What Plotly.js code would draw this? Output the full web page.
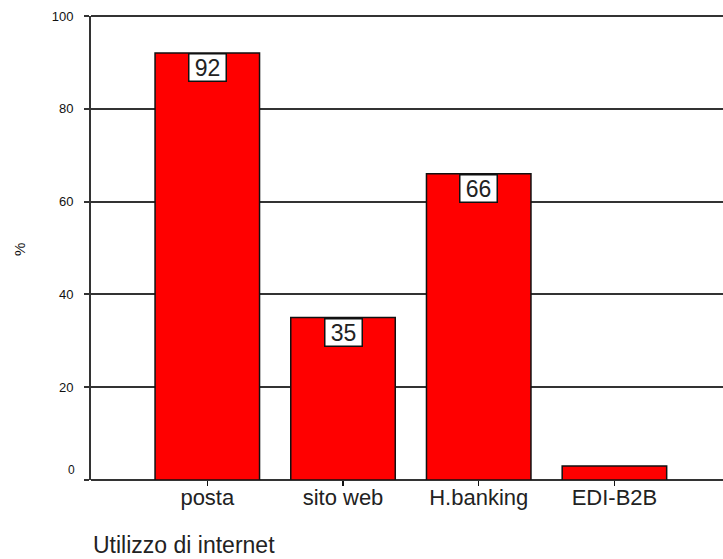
<!DOCTYPE html>
<html>
<head>
<meta charset="utf-8">
<script src="https://cdn.plot.ly/plotly-3.0.1.min.js"></script>
<style>html,body{margin:0;padding:0;background:#fff;}#chart{width:723px;height:559px;}</style>
</head>
<body>
<div id="chart"></div>
<script>
const categories = ["posta", "sito web", "H.banking", "EDI-B2B"];
const values = [92, 35, 66, 3];
const labels = ["92", "35", "66", ""];
const yTickVals = [0, 20, 40, 60, 80, 100];
const yTickText = ["", "20", "40", "60", "80", "100"];

const FONT = "Liberation Sans, Arial, sans-serif";

const trace = {
  type: "bar",
  x: categories,
  y: values,
  width: 0.77,
  marker: {color: "#ff0000", line: {color: "#111", width: 1.5}},
  hoverinfo: "none"
};

const annotations = [];
categories.forEach((c, i) => {
  if (labels[i] !== "") {
    annotations.push({
      x: c, y: values[i], xref: "x", yref: "y",
      text: labels[i], showarrow: false,
      xanchor: "center", yanchor: "top",
      font: {family: FONT, size: 23, color: "#222"},
      bgcolor: "#ffffff", bordercolor: "#111", borderwidth: 1.5, borderpad: 1,
      width: 34, height: 24
    });
  }
});
annotations.push({
  x: 0, y: 0, xref: "paper", yref: "y", text: "0", showarrow: false,
  xanchor: "right", yanchor: "middle", xshift: -14, yshift: 10,
  font: {family: FONT, size: 12, color: "#111"}
});
annotations.push({
  x: (19 - 91) / 632, y: (480 - 250) / 464, xref: "paper", yref: "paper",
  text: "%", showarrow: false, textangle: -90,
  xanchor: "center", yanchor: "middle",
  font: {family: FONT, size: 15, color: "#111"}
});
annotations.push({
  x: 0, y: (480 - 545) / 464, xref: "paper", yref: "paper",
  text: "Utilizzo di internet", showarrow: false,
  xanchor: "left", yanchor: "middle",
  font: {family: FONT, size: 23, color: "#222"}
});

const layout = {
  width: 723, height: 559,
  margin: {l: 91, r: 0, t: 16, b: 79},
  paper_bgcolor: "#fff", plot_bgcolor: "#fff",
  showlegend: false,
  xaxis: {
    range: [-0.857, 3.80],
    showgrid: false, zeroline: false,
    showline: false,
    ticks: "outside", ticklen: 5, tickwidth: 1.5, tickcolor: "#111",
    tickfont: {family: FONT, size: 22, color: "#222"},
    ticklabelstandoff: -7,
    fixedrange: true
  },
  yaxis: {
    range: [0, 100],
    tickvals: yTickVals, ticktext: yTickText,
    showgrid: true, gridcolor: "#333", gridwidth: 2,
    zeroline: true, zerolinecolor: "#333", zerolinewidth: 2,
    showline: true, linecolor: "#333", linewidth: 2,
    ticks: "outside", ticklen: 5, tickwidth: 2, tickcolor: "#333",
    tickfont: {family: FONT, size: 13, color: "#111"},
    ticklabelstandoff: 8,
    fixedrange: true
  },
  shapes: [{
    type: "line", xref: "paper", yref: "paper", x0: 0, x1: 1, y0: 1, y1: 1,
    line: {color: "#333", width: 2}, layer: "below"
  }],
  annotations: annotations
};

Plotly.newPlot("chart", [trace], layout, {staticPlot: true, displayModeBar: false});
</script>
</body>
</html>
